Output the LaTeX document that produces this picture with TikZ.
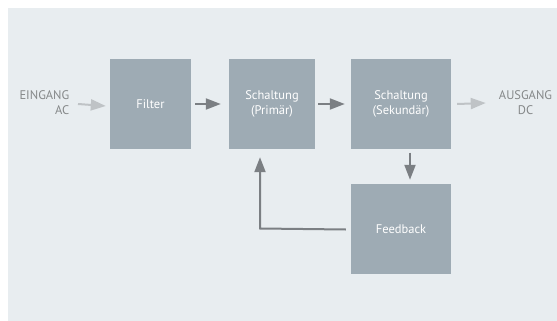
\documentclass[tikz,border=0pt]{standalone}
\usepackage{fontspec}
\setmainfont{PT Sans}
\usetikzlibrary{arrows.meta}
\definecolor{bgc}{HTML}{E8EDF0}
\definecolor{boxc}{HTML}{9EABB4}
\definecolor{darkarr}{HTML}{7B7F83}
\definecolor{lightarr}{HTML}{BFC3C6}
\definecolor{lbl}{HTML}{858889}
\tikzset{
  blk/.style={fill=boxc, draw=none, minimum width=#1, minimum height=90pt, inner sep=0pt, align=center, text=white, font=\fontsize{12.5}{15}\selectfont},
  lab/.style={text=lbl, font=\fontsize{12.5}{15}\selectfont, inner sep=0pt},
  darr/.style={draw=darkarr, line width=2pt, -{Triangle[length=15pt,width=11pt]}},
  larr/.style={draw=lightarr, line width=2pt, -{Triangle[length=15pt,width=11pt]}},
}
\begin{document}
\begin{tikzpicture}[x=1pt,y=-1pt]
\useasboundingbox (0,0) rectangle (557,321);
\fill[white] (0,0) rectangle (557,321);
\fill[bgc] (8,8) rectangle (557,321);
\node[blk=81pt] (filter) at (150.5,104) {Filter};
\node[blk=86pt] (prim) at (272,104) {Schaltung\\(Primär)};
\node[blk=100pt] (sek) at (401,104) {Schaltung\\(Sekundär)};
\node[blk=100pt] (fb) at (401,229) {Feedback};
\node[lab, align=right, anchor=east] (ein) at (69.5,103) {EINGANG\\AC};
\node[lab, align=center] (aus) at (525.5,103) {AUSGANG\\DC};
\coordinate (corner) at (260,228.5);
\draw[larr] ([xshift=8.5pt,yshift=-1pt]ein.east) -- ([xshift=-4pt,yshift=-2pt]filter.west);
\draw[darr] ([xshift=4pt]filter.east) -- ([xshift=-8pt]prim.west);
\draw[darr] ([xshift=3pt]prim.east) -- ([xshift=-6pt]sek.west);
\draw[larr] ([xshift=6pt]sek.east) -- ([xshift=-13pt]aus.west);
\draw[darr] ([xshift=9pt,yshift=-3.5pt]sek.south) -- ([xshift=9pt,yshift=4pt]fb.north);
\draw[draw=darkarr, line width=2pt, -{Triangle[length=15pt,width=11pt]}] ([xshift=-5pt,yshift=-0.5pt]fb.west) -- (corner) -- ([yshift=-8pt]corner |- prim.south);
\end{tikzpicture}
\end{document}
